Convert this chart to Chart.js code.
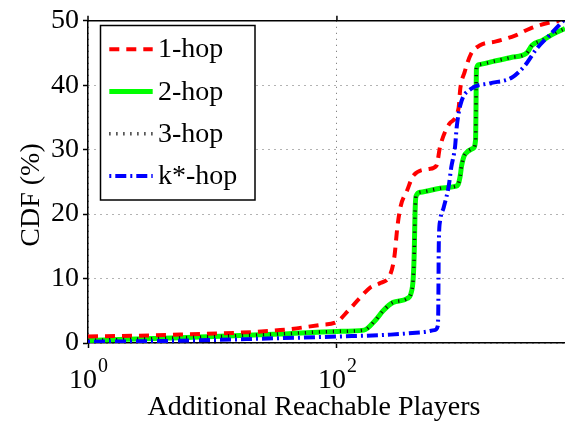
<!DOCTYPE html>
<html>
<head>
<meta charset="utf-8">
<script src="https://cdn.jsdelivr.net/npm/chart.js@4.4.1/dist/chart.umd.min.js"></script>
<style>
  html, body { margin: 0; padding: 0; background: #fff; overflow: hidden; }
  #wrap { width: 565px; height: 426px; }
</style>
</head>
<body>
<div id="wrap"><canvas id="c" width="565" height="426"></canvas></div>
<script>
// Series labels
const seriesNames = ['1-hop', '2-hop', '3-hop', 'k*-hop'];

// 1-hop CDF: additional reachable players vs cumulative %
const hop1X = [1, 5.5, 35, 73, 100, 123, 153, 185, 223, 268, 290, 306, 326, 365, 412, 550, 630, 675, 800, 950, 980, 1060, 1190, 1413, 1900, 2700, 3560, 5300, 6000, 6800];
const hop1Y = [1.0, 1.3, 2.0, 2.8, 3.3, 5.0, 7.0, 8.6, 9.3, 10.6, 13.5, 18.0, 21.3, 23.6, 26.0, 27.0, 27.5, 30.5, 34.0, 36.5, 39.5, 42.0, 44.8, 46.2, 46.8, 47.7, 48.8, 49.8, 50.0, 51.0];

// 2-hop CDF
const hop2X = [1, 5.5, 35, 100, 165, 203, 235, 283, 367, 395, 410, 418, 424, 432, 470, 675, 890, 941, 980, 1004, 1071, 1242, 1300, 1310, 1320, 1380, 1800, 2500, 3350, 3700, 4500, 5500, 6800];
const hop2Y = [0.4, 0.8, 1.4, 1.8, 2.0, 3.5, 5.0, 6.3, 6.9, 7.8, 10.0, 14.0, 20.0, 22.8, 23.4, 24.0, 24.3, 24.6, 26.0, 27.5, 29.3, 30.2, 31.5, 36.0, 42.5, 43.2, 43.7, 44.3, 45.0, 46.2, 47.0, 48.0, 48.8];

// 3-hop CDF (coincides with 2-hop)
const hop3X = [1, 5.5, 35, 100, 165, 203, 235, 283, 367, 395, 410, 418, 424, 432, 470, 675, 890, 941, 980, 1004, 1071, 1242, 1300, 1310, 1320, 1380, 1800, 2500, 3350, 3700, 4500, 5500, 6800];
const hop3Y = [0.4, 0.8, 1.4, 1.8, 2.0, 3.5, 5.0, 6.3, 6.9, 7.8, 10.0, 14.0, 20.0, 22.8, 23.4, 24.0, 24.3, 24.6, 26.0, 27.5, 29.3, 30.2, 31.5, 36.0, 42.5, 43.2, 43.7, 44.3, 45.0, 46.2, 47.0, 48.0, 48.8];

// k*-hop CDF
const hopKX = [1, 5.5, 35, 100, 270, 495, 610, 645, 652, 655, 658, 675, 720, 790, 830, 890, 915, 980, 1190, 1690, 2550, 3250, 4000, 5000, 6300, 6800];
const hopKY = [0.2, 0.35, 0.75, 1.0, 1.3, 1.7, 2.0, 2.6, 5.0, 10.0, 15.0, 19.0, 21.0, 24.3, 27.3, 30.5, 33.3, 36.9, 39.4, 40.3, 41.2, 43.1, 45.6, 47.6, 49.6, 50.3];

// Axis ticks and titles
const xTickValues = [1, 100];
const xTickBase = '10';
const xTickExponents = ['0', '2'];
const yTickValues = [0, 10, 20, 30, 40, 50];
const xTitle = 'Additional Reachable Players';
const yTitle = 'CDF (%)';

const SERIF = "'Liberation Serif', 'DejaVu Serif', serif";
const toPoints = (xs, ys) => xs.map((x, i) => ({ x: x, y: ys[i] }));

const datasets = [
  { label: seriesNames[0], data: toPoints(hop1X, hop1Y), borderColor: '#ff0000', borderWidth: 4, borderDash: [10, 7], order: 2 },
  { label: seriesNames[1], data: toPoints(hop2X, hop2Y), borderColor: '#00ff00', borderWidth: 5, borderDash: [], order: 3 },
  { label: seriesNames[2], data: toPoints(hop3X, hop3Y), borderColor: '#111111', borderWidth: 3.5, borderDash: [1.2, 5.8], order: 1 },
  { label: seriesNames[3], data: toPoints(hopKX, hopKY), borderColor: '#0000ff', borderWidth: 4, borderDash: [11, 4, 2, 4], borderDashOffset: 15, order: 0 }
];

// Frame, x tick labels with superscripts, axis titles and the boxed legend
const decor = {
  id: 'decor',
  afterDraw(chart) {
    const { ctx, chartArea: a, scales } = chart;
    const xs = scales.x;
    ctx.save();
    ctx.setLineDash([]);
    ctx.strokeStyle = '#000';
    ctx.lineWidth = 1.5;
    ctx.beginPath();
    ctx.moveTo(a.left, a.top);
    ctx.lineTo(a.right, a.top);
    ctx.stroke();
    xTickValues.forEach(v => {
      const px = xs.getPixelForValue(v);
      ctx.beginPath();
      ctx.moveTo(px, a.top);
      ctx.lineTo(px, a.top - 5);
      ctx.stroke();
    });

    // x tick labels: base plus raised exponent
    ctx.fillStyle = '#000';
    ctx.textBaseline = 'alphabetic';
    ctx.textAlign = 'left';
    xTickValues.forEach((v, i) => {
      const px = xs.getPixelForValue(v);
      ctx.font = '28px ' + SERIF;
      const wb = ctx.measureText(xTickBase).width;
      ctx.font = '20px ' + SERIF;
      const we = ctx.measureText(xTickExponents[i]).width;
      const start = px - (wb + we) / 2;
      ctx.font = '28px ' + SERIF;
      ctx.fillText(xTickBase, start, 388);
      ctx.font = '20px ' + SERIF;
      ctx.fillText(xTickExponents[i], start + wb + 1, 372);
    });

    // axis titles
    ctx.font = '28px ' + SERIF;
    ctx.textAlign = 'center';
    ctx.fillText(xTitle, 314, 415);
    ctx.save();
    ctx.translate(39, 195);
    ctx.rotate(-Math.PI / 2);
    ctx.fillText(yTitle, 0, 0);
    ctx.restore();

    // legend
    const box = { x: 100.5, y: 25.5, w: 154.5, h: 174.5 };
    ctx.fillStyle = '#fff';
    ctx.fillRect(box.x, box.y, box.w, box.h);
    ctx.strokeStyle = '#000';
    ctx.lineWidth = 1.5;
    ctx.strokeRect(box.x, box.y, box.w, box.h);
    chart.data.datasets.forEach((ds, i) => {
      const rowY = 49.3 + i * 42.2;
      ctx.save();
      ctx.strokeStyle = ds.borderColor;
      ctx.lineWidth = ds.borderWidth;
      ctx.setLineDash(ds.borderDash || []);
      ctx.lineDashOffset = ds.borderDashOffset || 0;
      ctx.beginPath();
      ctx.moveTo(109.3, rowY);
      ctx.lineTo(152.7, rowY);
      ctx.stroke();
      ctx.restore();
      ctx.fillStyle = '#000';
      ctx.font = '28px ' + SERIF;
      ctx.textAlign = 'left';
      ctx.fillText(ds.label, 158, rowY + 8);
    });
    ctx.restore();
  }
};

new Chart(document.getElementById('c'), {
  type: 'line',
  data: { datasets: datasets },
  options: {
    responsive: false,
    animation: false,
    devicePixelRatio: 1,
    layout: { padding: { top: 16, right: 0, bottom: 0, left: 0 }, autoPadding: false },
    plugins: { legend: { display: false }, tooltip: { enabled: false } },
    elements: {
      point: { radius: 0 },
      line: { cubicInterpolationMode: 'monotone', fill: false }
    },
    scales: {
      x: {
        type: 'logarithmic',
        min: 1,
        max: 6800,
        afterBuildTicks: s => { s.ticks = xTickValues.map(v => ({ value: v })); },
        afterFit: s => { s.height = 83; },
        ticks: { display: false },
        grid: { color: 'rgba(0,0,0,0.6)', lineWidth: 1, tickLength: 5, tickColor: '#000', tickWidth: 1.5 },
        border: { display: true, color: '#000', width: 1.5, dash: [1, 5] }
      },
      y: {
        min: 0,
        max: 50,
        afterBuildTicks: s => { s.ticks = yTickValues.map(v => ({ value: v })); },
        afterFit: s => { s.width = 88; },
        ticks: { color: '#000', font: { family: SERIF, size: 28 }, padding: 4 },
        grid: { color: 'rgba(0,0,0,0.6)', lineWidth: 1, tickLength: 5, tickColor: '#000', tickWidth: 1.5 },
        border: { display: true, color: '#000', width: 1.5, dash: [1, 5] }
      }
    }
  },
  plugins: [decor]
});
</script>
</body>
</html>
